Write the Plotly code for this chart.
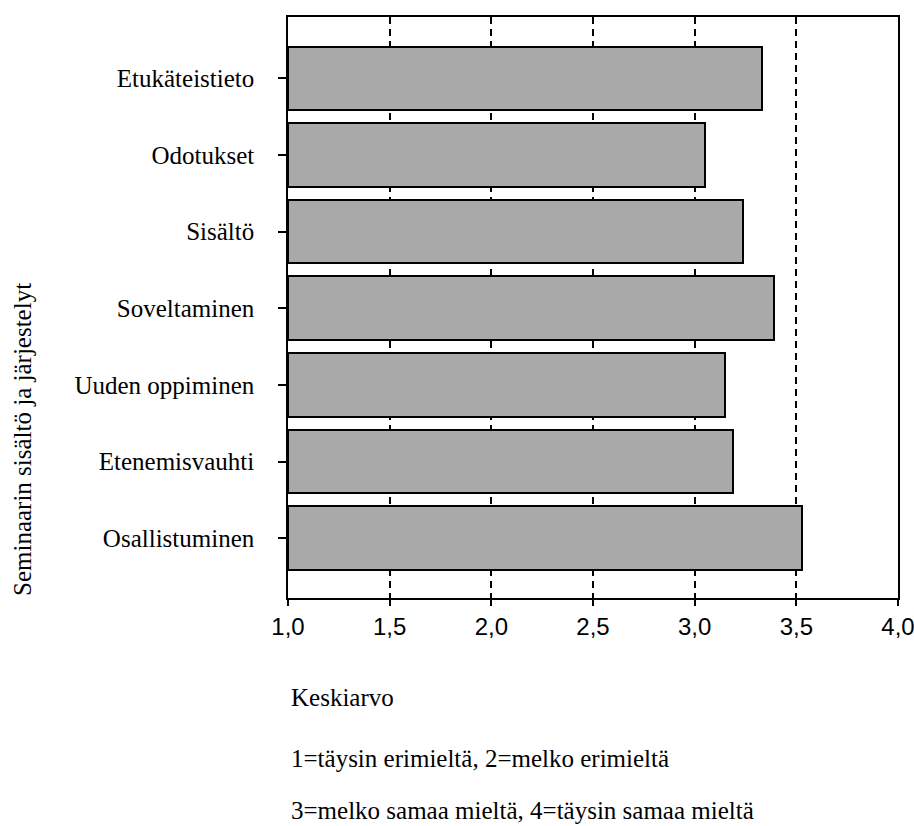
import plotly.graph_objects as go

categories = ["Etukäteistieto", "Odotukset", "Sisältö", "Soveltaminen",
              "Uuden oppiminen", "Etenemisvauhti", "Osallistuminen"]
values = [3.33, 3.05, 3.24, 3.39, 3.15, 3.19, 3.53]
x_ticks = [1.0, 1.5, 2.0, 2.5, 3.0, 3.5, 4.0]
x_tick_labels = ["1,0", "1,5", "2,0", "2,5", "3,0", "3,5", "4,0"]
y_title = "Seminaarin sisältö ja järjestelyt"
notes = ["Keskiarvo",
         "1=täysin erimieltä, 2=melko erimieltä",
         "3=melko samaa mieltä, 4=täysin samaa mieltä"]

SERIF = "Liberation Serif, Times New Roman, serif"
NARROW = "Liberation Sans Narrow, Arial Narrow, Liberation Sans, Arial, sans-serif"

fig = go.Figure(go.Bar(
    x=[v - 1.0 for v in values],
    base=1.0,
    y=categories,
    orientation="h",
    width=0.83,
    marker=dict(color="#a9a9a9", line=dict(color="black", width=2)),
    hoverinfo="skip",
))

L, R, T, B = 288, 16, 17, 228
W, H = 914, 826
ph = H - T - B

fig.update_layout(
    width=W, height=H,
    margin=dict(l=L, r=R, t=T, b=B, pad=0, autoexpand=False),
    plot_bgcolor="white", paper_bgcolor="white",
    showlegend=False,
    bargap=0,
)
fig.update_xaxes(
    range=[1.0, 4.0], automargin=False,
    tickvals=x_ticks, ticktext=x_tick_labels,
    ticklabeloverflow="allow",
    tickfont=dict(family=NARROW, size=24, color="black"),
    ticks="outside", ticklen=6, tickwidth=2, tickcolor="black",
    showline=True, linecolor="black", linewidth=2, mirror=True,
    showgrid=True, gridcolor="black", gridwidth=2, griddash="7px,5px",
    zeroline=False, layer="above traces",
)
fig.update_yaxes(
    type="category", categoryorder="array", categoryarray=categories,
    range=[6.78, -0.8], automargin=False,
    ticksuffix="   ",
    tickfont=dict(family=SERIF, size=25, color="black"),
    ticks="outside", ticklen=8, tickwidth=2, tickcolor="black",
    showline=True, linecolor="black", linewidth=2, mirror=True,
    showgrid=False, zeroline=False, layer="above traces",
)

# rotated axis title
fig.add_annotation(
    text=y_title, textangle=-90,
    xref="paper", yref="paper",
    x=-(L - 23) / (W - L - R), y=(H - B - 440) / ph,
    xanchor="center", yanchor="middle",
    showarrow=False,
    font=dict(family=SERIF, size=25, color="black"),
)

note_centers = [697, 758, 810]
for txt, yc in zip(notes, note_centers):
    fig.add_annotation(
        text=txt, xref="paper", yref="paper",
        x=1 / (W - L - R), y=(H - B - yc) / ph,
        xanchor="left", yanchor="middle", showarrow=False,
        font=dict(family=SERIF, size=25, color="black"),
    )

fig.write_html("out.html",
               config={"displayModeBar": False},
               post_script="document.body.style.margin='0px';document.body.style.overflow='hidden';")
